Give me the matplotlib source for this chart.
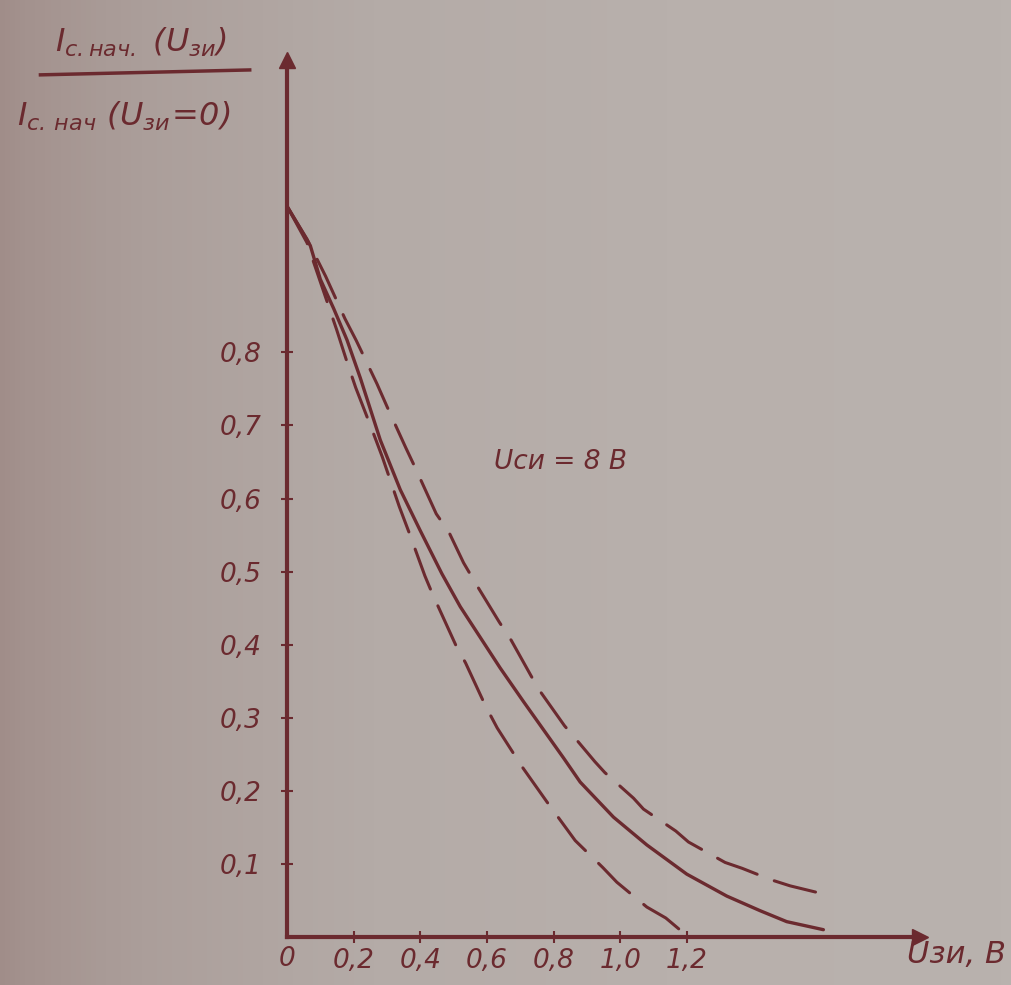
import numpy as np
import matplotlib.pyplot as plt
from matplotlib.colors import LinearSegmentedColormap

# values: gate-source voltage (V) vs relative drain current
u_solid = [0.0, 0.07, 0.10, 0.14, 0.18, 0.22, 0.28, 0.34, 0.40, 0.465, 0.52, 0.58, 0.64,
           0.71, 0.83, 0.88, 0.98, 1.08, 1.20, 1.32, 1.42, 1.50, 1.61]
i_solid = [1.0, 0.946, 0.90, 0.86, 0.817, 0.765, 0.68, 0.612, 0.556, 0.497, 0.452, 0.41, 0.368,
           0.322, 0.245, 0.212, 0.164, 0.126, 0.086, 0.056, 0.036, 0.021, 0.01]

u_upper = [0.0, 0.06, 0.116, 0.174, 0.208, 0.27, 0.30, 0.356, 0.385, 0.448, 0.486, 0.53, 0.57,
           0.637, 0.673, 0.733, 0.76, 0.833, 0.865, 0.924, 0.954, 1.04, 1.07, 1.167, 1.205,
           1.315, 1.366, 1.455, 1.51, 1.60]
i_upper = [1.0, 0.955, 0.904, 0.846, 0.816, 0.757, 0.726, 0.670, 0.642, 0.579, 0.554, 0.512, 0.481,
           0.431, 0.406, 0.357, 0.336, 0.289, 0.272, 0.24, 0.225, 0.19, 0.175, 0.145, 0.13,
           0.102, 0.094, 0.078, 0.07, 0.06]

u_lower = [0.0, 0.06, 0.149, 0.18, 0.206, 0.257, 0.286, 0.337, 0.366, 0.414, 0.437, 0.506, 0.536,
           0.596, 0.631, 0.704, 0.78, 0.865, 0.948, 0.99, 1.08, 1.137, 1.205]
i_lower = [1.0, 0.95, 0.831, 0.787, 0.752, 0.692, 0.657, 0.589, 0.554, 0.494, 0.469, 0.40, 0.375,
           0.316, 0.286, 0.234, 0.185, 0.132, 0.095, 0.075, 0.041, 0.026, 0.0]

x_ticks = [0.2, 0.4, 0.6, 0.8, 1.0, 1.2]
x_labels = ['0,2', '0,4', '0,6', '0,8', '1,0', '1,2']
y_ticks = [0.1, 0.2, 0.3, 0.4, 0.5, 0.6, 0.7, 0.8]
y_labels = ['0,1', '0,2', '0,3', '0,4', '0,5', '0,6', '0,7', '0,8']

ink = '#6b2a2f'
paper = '#b7afab'

plt.rcParams['font.family'] = 'DejaVu Sans'
plt.rcParams['font.style'] = 'italic'
plt.rcParams['mathtext.fontset'] = 'custom'
plt.rcParams['mathtext.rm'] = 'DejaVu Sans:italic'
plt.rcParams['mathtext.it'] = 'DejaVu Sans:italic'

fig = plt.figure(figsize=(10.11, 9.85), dpi=100, facecolor=paper)

# paper shading, darker toward the left edge
bg = fig.add_axes([0, 0, 1, 1], zorder=-5)
cmap = LinearSegmentedColormap.from_list('paper', ['#a08d89', '#ab9e9a', '#b4aba7', '#b8b0ac', '#b9b2ae'])
bg.imshow(np.linspace(0, 1, 200)[None, :] ** 0.7, cmap=cmap, aspect='auto', extent=[0, 1, 0, 1])
bg.axis('off')

ax = fig.add_axes([287 / 1011, 48 / 985, 633 / 1011, 877 / 985])
ax.set_facecolor('none')
ax.set_xlim(0, 1.9)
ax.set_ylim(0, 1.2)

ax.plot(u_solid, i_solid, color=ink, lw=2.4, solid_joinstyle='round', solid_capstyle='round')
ax.plot(u_upper, i_upper, color=ink, lw=2.2, dashes=(14, 6), dash_capstyle='round')
ax.plot(u_lower, i_lower, color=ink, lw=2.2, dashes=(14, 6), dash_capstyle='round')

for s in ['top', 'right']:
    ax.spines[s].set_visible(False)
for s in ['left', 'bottom']:
    ax.spines[s].set_color(ink)
    ax.spines[s].set_linewidth(3)

# arrow heads on the axes
ax.plot(1, 0, '>', color=ink, ms=11, transform=ax.transAxes, clip_on=False)
ax.plot(0, 1, '^', color=ink, ms=11, transform=ax.transAxes, clip_on=False)

ax.set_xticks(x_ticks)
ax.set_xticklabels(x_labels)
ax.set_yticks(y_ticks)
ax.set_yticklabels(y_labels)
ax.tick_params(axis='both', direction='inout', length=8, width=1.5, color=ink,
               labelcolor=ink, labelsize=19)
ax.tick_params(axis='x', pad=4)
ax.tick_params(axis='y', pad=14)

ax.text(0.0, -0.012, '0', color=ink, fontsize=19, ha='center', va='top')
ax.text(1.86, -0.004, 'Uзи, В', color=ink, fontsize=22, ha='left', va='top', clip_on=False)
ax.text(0.82, 0.65, 'Uси = 8 В', color=ink, fontsize=19, ha='center', va='center')

# y-axis quantity written as a fraction at the top left
fig.text(0.14, 0.957, r'$I_{с.нач.}\ (U_{зи})$', color=ink, fontsize=23, ha='center', va='center')
fig.add_artist(plt.Line2D([0.04, 0.247], [0.924, 0.929], color=ink, lw=2.5))
fig.text(0.122, 0.882, r'$I_{с.\,нач}\ (U_{зи}\!=\!0)$', color=ink, fontsize=23, ha='center', va='center')

fig.savefig('out.png', dpi=100, facecolor=paper)
